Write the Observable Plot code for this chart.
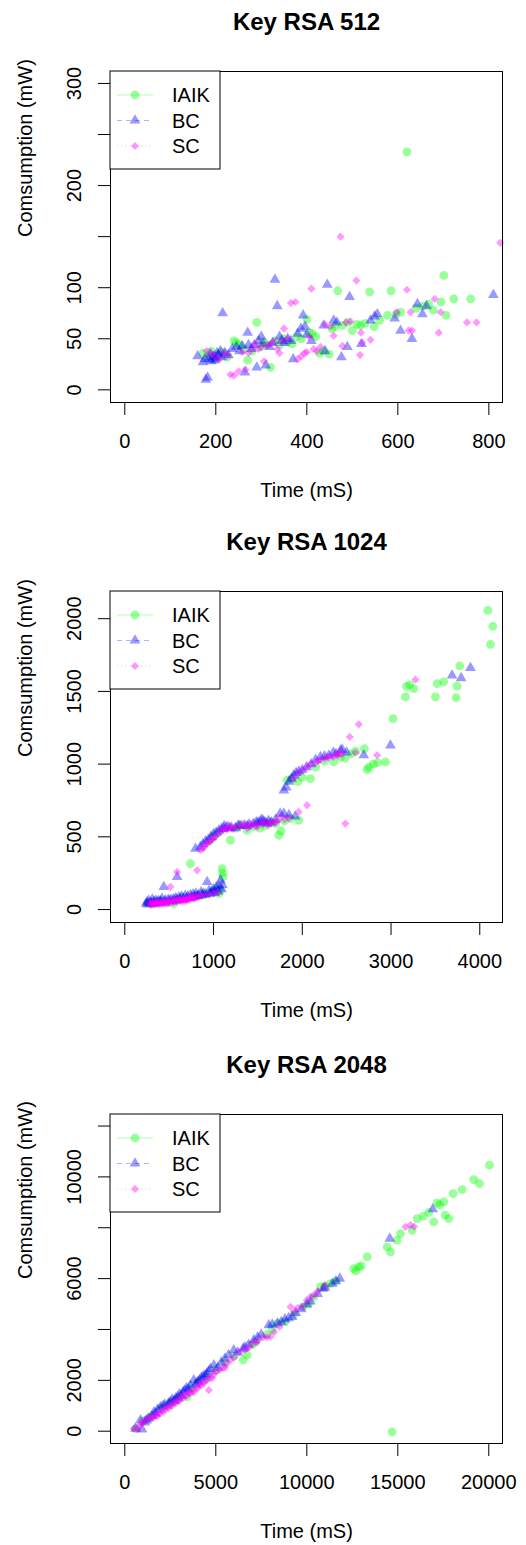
<!DOCTYPE html>
<html><head><meta charset="utf-8">
<script src="https://cdn.jsdelivr.net/npm/d3@7"></script>
<script src="https://cdn.jsdelivr.net/npm/@observablehq/plot@0.6"></script>
<style>body{margin:0;background:#fff} svg{display:block}</style>
</head><body><div id="c"></div>
<script>
// ---- series definitions ----
const seriesNames = ["IAIK", "BC", "SC"];
const seriesColors = ["#00ff00", "#0000ff", "#ff00ff"];
const seriesDash = [null, "5,4", "1,3"];

// ---- Key RSA 512: [time mS, consumption mW] ----
const rsa512IAIK = [[172,36],[182,33],[190,38],[198,30],[205,34],[215,37],[225,32],[240,48],[245,46],[252,44],[262,40],[270,29],[280,38],[290,66],[298,42],[305,47],[312,44],[320,22],[330,48],[340,44],[348,50],[358,47],[368,45],[378,52],[388,50],[400,69],[405,56],[412,55],[420,52],[428,36],[436,38],[449,35],[455,60],[462,62],[468,97],[478,63],[490,66],[500,58],[510,64],[518,63],[528,65],[538,96],[548,62],[560,68],[577,73],[585,97],[596,74],[606,76],[620,233],[640,80],[655,82],[668,84],[678,78],[695,86],[701,112],[706,73],[723,89],[760,89]];
const rsa512BC = [[160,33],[172,27],[176,30],[178,10],[182,12],[185,30],[188,35],[190,28],[193,32],[196,33],[198,29],[200,31],[203,36],[206,34],[210,38],[213,32],[215,75],[220,36],[228,34],[236,40],[245,42],[252,38],[258,43],[264,17],[270,56],[272,44],[278,40],[285,44],[290,22],[294,48],[300,52],[304,45],[310,24],[318,42],[325,46],[330,108],[335,82],[340,52],[345,48],[350,46],[358,50],[365,48],[370,30],[380,55],[387,60],[392,73],[396,62],[400,54],[410,48],[437,63],[440,38],[445,103],[459,68],[466,66],[476,32],[489,42],[494,91],[520,45],[540,68],[549,72],[555,74],[593,70],[606,58],[631,50],[643,84],[654,74],[663,82],[810,93]];
const rsa512SC = [[180,38],[190,35],[198,33],[208,30],[218,36],[226,34],[232,15],[240,14],[250,18],[258,37],[265,20],[272,36],[280,40],[286,45],[294,40],[300,42],[306,28],[313,44],[320,45],[328,47],[335,40],[340,36],[346,48],[350,60],[358,50],[365,85],[375,86],[380,30],[388,33],[395,36],[400,37],[405,52],[410,99],[415,40],[422,38],[430,42],[440,64],[452,62],[459,53],[474,150],[478,43],[486,66],[496,67],[509,107],[517,34],[519,56],[522,46],[540,49],[598,76],[620,98],[624,58],[628,76],[631,58],[681,89],[690,56],[694,76],[752,66],[773,66],[825,144]];

// ---- Key RSA 1024 ----
const rsa1024IAIK = [[260,45],[300,50],[327,41],[360,55],[420,60],[480,48],[552,41],[600,70],[650,85],[740,316],[800,95],[850,110],[900,100],[960,115],[1003,121],[1040,150],[1060,110],[1078,133],[1097,282],[1100,250],[1108,225],[950,470],[1000,500],[1060,530],[1190,477],[1250,560],[1300,580],[1378,545],[1450,570],[1520,560],[1580,575],[1650,600],[1700,590],[1735,511],[1760,540],[1800,610],[1867,625],[1960,614],[1829,889],[1880,900],[1950,880],[2000,910],[2092,900],[2150,980],[2250,1020],[2355,1015],[2430,1049],[2480,1040],[2550,1070],[2600,1090],[2700,1106],[2731,962],[2750,980],[2800,1000],[2850,1010],[2937,1015],[3023,1313],[3163,1462],[3174,1535],[3210,1545],[3256,1519],[3500,1462],[3520,1553],[3594,1565],[3733,1457],[3745,1537],[3775,1675],[4090,2057],[4120,1824],[4146,1947]];
const rsa1024BC = [[240,40],[252,53],[260,35],[270,60],[290,45],[300,45],[310,70],[330,55],[340,40],[350,62],[370,50],[380,60],[400,58],[410,48],[420,75],[439,156],[450,55],[460,65],[490,68],[500,60],[520,70],[540,58],[550,72],[575,80],[580,65],[590,225],[610,85],[620,70],[640,90],[660,72],[680,95],[700,78],[710,90],[740,100],[750,80],[770,105],[790,88],[800,110],[820,92],[830,95],[860,120],[870,100],[890,110],[910,105],[928,190],[950,130],[960,110],[980,125],[1000,140],[1010,115],[1030,150],[1050,125],[1060,160],[1078,201],[1090,140],[1100,170],[796,419],[850,430],[880,450],[910,470],[940,480],[970,500],[1000,520],[1030,530],[1060,545],[1090,555],[1115,557],[1120,575],[1150,570],[1180,560],[1200,565],[1250,560],[1280,580],[1300,575],[1350,580],[1380,575],[1400,585],[1450,590],[1480,600],[1500,600],[1529,602],[1540,620],[1560,610],[1580,600],[1600,590],[1620,610],[1650,600],[1700,620],[1750,660],[1792,660],[1850,650],[1920,640],[1792,820],[1820,840],[1850,880],[1880,900],[1904,923],[1930,940],[1960,950],[2000,960],[2050,980],[2100,1000],[2150,1030],[2205,1049],[2250,1055],[2300,1060],[2350,1080],[2380,1070],[2430,1095],[2450,1100],[2500,1080],[2693,1061],[2993,1129],[3688,1610],[3790,1592],[3895,1661]];
const rsa1024SC = [[280,45],[290,30],[300,40],[310,55],[320,40],[330,35],[340,50],[350,45],[360,38],[370,48],[380,55],[390,35],[400,45],[410,52],[420,40],[430,45],[440,50],[450,40],[460,60],[470,55],[480,42],[490,50],[500,55],[510,45],[514,156],[530,65],[540,55],[550,50],[560,65],[570,60],[590,259],[590,55],[600,70],[610,68],[620,60],[630,62],[640,75],[650,58],[660,70],[670,75],[680,60],[690,70],[700,65],[710,72],[720,85],[730,68],[740,80],[750,85],[760,90],[770,78],[780,75],[800,90],[815,270],[820,85],[840,100],[852,408],[860,95],[880,420],[900,440],[900,100],[920,450],[940,465],[950,105],[960,470],[980,485],[1000,490],[1000,110],[1020,500],[1050,520],[1050,120],[1080,540],[1110,550],[1120,560],[1150,550],[1170,580],[1200,560],[1220,555],[1250,575],[1300,570],[1320,590],[1350,580],[1380,560],[1400,570],[1420,590],[1450,585],[1480,570],[1500,575],[1540,600],[1566,591],[1600,605],[1620,580],[1650,595],[1680,600],[1700,600],[1720,610],[1760,640],[1800,620],[1850,630],[1960,671],[2054,717],[1900,900],[1950,930],[2000,960],[2050,980],[2100,1000],[2150,1010],[2180,1020],[2200,1030],[2250,1040],[2280,1050],[2300,1045],[2350,1050],[2380,1065],[2400,1060],[2420,1080],[2450,1070],[2486,591],[2535,1187],[2637,1274],[2600,1080],[2843,1061],[3275,1581]];

// ---- Key RSA 2048 ----
const rsa2048IAIK = [[600,100],[1000,400],[1300,500],[1500,600],[2000,900],[2300,1000],[2500,1100],[2800,1200],[3000,1300],[3425,1350],[3700,1700],[4000,1900],[4500,2100],[5000,2400],[5500,2700],[6000,2950],[6500,2800],[6722,2988],[7000,3400],[7200,3500],[7800,3800],[8100,4000],[8370,4233],[8800,4300],[9300,4600],[9800,4900],[10100,5000],[10385,5282],[10751,5675],[11000,5700],[11300,5806],[11600,5900],[12582,6396],[12700,6300],[12857,6461],[13000,6500],[13315,6855],[14414,7248],[14597,7051],[14689,-26],[14963,7510],[15147,7772],[15788,7903],[16062,8362],[16400,8450],[16700,8600],[16978,8231],[17161,8978],[17300,8900],[17527,9017],[17600,8500],[17802,8362],[18040,9345],[18535,9502],[19176,9895],[19487,9738],[20037,10459]];
const rsa2048BC = [[586,105],[861,432],[952,66],[1100,350],[1200,420],[1300,500],[1500,600],[1600,750],[1700,700],[1800,850],[1960,957],[2100,1000],[2200,1050],[2400,1100],[2500,1150],[2600,1250],[2700,1200],[2800,1300],[2900,1350],[3000,1450],[3100,1400],[3200,1550],[3300,1600],[3400,1700],[3500,1650],[3600,1800],[3791,2005],[3900,1850],[4000,1950],[4100,2000],[4200,2100],[4300,2150],[4400,2200],[4500,2250],[4600,2350],[4700,2450],[4890,2595],[5100,2500],[5300,2700],[5500,2850],[5700,3000],[5989,3185],[6200,3100],[6500,3250],[6600,3300],[6800,3400],[7088,3578],[7300,3700],[7500,3800],[7912,4168],[8100,4200],[8400,4250],[8600,4300],[8800,4400],[9000,4450],[9194,4495],[9400,4650],[9700,4800],[10000,5000],[10200,5100],[10600,5400],[10897,5609],[11000,5650],[11400,5800],[11600,5900],[11813,6003],[14560,7575],[16923,8729]];
const rsa2048SC = [[495,105],[700,80],[800,200],[900,300],[1000,350],[1100,450],[1250,500],[1400,500],[1500,550],[1600,550],[1700,650],[1800,600],[1900,700],[2000,800],[2100,750],[2200,850],[2300,950],[2400,900],[2500,1000],[2600,1000],[2700,1150],[2800,1100],[2900,1200],[3000,1200],[3100,1350],[3200,1300],[3300,1400],[3400,1400],[3500,1500],[3600,1500],[3700,1550],[3800,1550],[3900,1700],[4000,1700],[4100,1850],[4200,1800],[4300,1900],[4400,1950],[4500,2000],[4615,1612],[4700,2100],[4800,2100],[4900,2250],[5000,2350],[5200,2400],[5400,2500],[5500,2500],[5600,2650],[5806,2792],[6000,2900],[6300,3100],[6600,3200],[6800,3300],[7000,3450],[7200,3500],[7300,3550],[7600,3700],[7800,3700],[8004,3709],[8200,3900],[8500,4100],[9103,4889],[9300,4700],[9500,4850],[9800,4900],[10000,5150],[10201,5282],[10400,5350],[10600,5500],[11000,5700],[15421,8034],[15700,8100],[15900,8050]];

// ---- axes: ticks and labels ----
const x512Ticks = [0, 200, 400, 600, 800];
const y512Ticks = [0, 50, 100, 150, 200, 250, 300];
const y512Labels = [0, 50, 100, 200, 300];
const x1024Ticks = [0, 1000, 2000, 3000, 4000];
const y1024Ticks = [0, 500, 1000, 1500, 2000];
const y1024Labels = [0, 500, 1000, 1500, 2000];
const x2048Ticks = [0, 5000, 10000, 15000, 20000];
const y2048Ticks = [0, 2000, 4000, 6000, 8000, 10000, 12000];
const y2048Labels = [0, 2000, 6000, 10000];

const FONT = "'Liberation Sans', Arial, Helvetica, sans-serif";
const ALPHA = 0.4;
const symbols = [d3.symbolCircle, d3.symbolTriangle, d3.symbolDiamond2];
const radii = [4.4, 4.0, 3.7];

function legend(mL, mT) {
  return function () {
    const g = d3.create("svg:g");
    g.append("rect").attr("x", mL).attr("y", mT).attr("width", 110).attr("height", 98)
      .attr("fill", "white").attr("stroke", "black");
    seriesNames.forEach((name, i) => {
      const cy = mT + 24 + i * 25.5;
      g.append("line").attr("x1", mL + 7).attr("x2", mL + 43).attr("y1", cy).attr("y2", cy)
        .attr("stroke", seriesColors[i]).attr("stroke-opacity", 0.3).attr("stroke-width", 1)
        .attr("stroke-dasharray", seriesDash[i]);
      g.append("path").attr("transform", `translate(${mL + 25},${cy})`)
        .attr("d", d3.symbol(symbols[i], Math.PI * radii[i] * radii[i])())
        .attr("fill", seriesColors[i]).attr("fill-opacity", ALPHA);
      g.append("text").attr("x", mL + 62).attr("y", cy).attr("dy", "0.36em")
        .attr("text-anchor", "start")
        .attr("font-size", 20).attr("font-family", FONT).attr("fill", "black").text(name);
    });
    return g.node();
  };
}

function panel(cfg) {
  const mL = 110, mR = 24, mT = 71;
  const sets = [cfg.iaik, cfg.bc, cfg.sc];
  return Plot.plot({
    width: 526, height: cfg.height,
    marginLeft: mL, marginRight: mR, marginTop: mT, marginBottom: cfg.mB,
    style: {fontFamily: FONT, fontSize: "20px", background: "white", color: "black"},
    x: {domain: cfg.xDomain},
    y: {domain: cfg.yDomain},
    marks: [
      ...sets.map((d, i) => Plot.dot(d, {
        x: v => v[0], y: v => v[1], r: radii[i], symbol: symbols[i],
        fill: seriesColors[i], fillOpacity: ALPHA, stroke: "none"
      })),
      Plot.frame({stroke: "black", strokeWidth: 1}),
      Plot.axisX({ticks: cfg.xTicks, tickSize: 13, tickFormat: () => "", label: null, stroke: "black"}),
      Plot.axisY({ticks: cfg.yTicks, tickSize: 12, tickFormat: () => "", label: null, stroke: "black"}),
      Plot.text(cfg.xTicks, {x: d => d, text: d => String(d), frameAnchor: "bottom", dy: 38.7, lineAnchor: "middle", fontSize: 20, fill: "black"}),
      Plot.text(cfg.yLabels, {y: d => d, text: d => String(d), frameAnchor: "left", dx: -36, rotate: -90, lineAnchor: "middle", textAnchor: "middle", fontSize: 20, fill: "black"}),
      Plot.text([cfg.title], {text: d => d, frameAnchor: "top", dy: -49, lineAnchor: "middle", fontSize: 24, fontWeight: "bold", fill: "black"}),
      Plot.text(["Time (mS)"], {text: d => d, frameAnchor: "bottom", dy: 88, lineAnchor: "middle", fontSize: 20, fill: "black"}),
      Plot.text(["Comsumption (mW)"], {text: d => d, frameAnchor: "left", dx: -85, rotate: -90, lineAnchor: "middle", fontSize: 20, fill: "black"}),
      legend(mL, mT)
    ]
  });
}

const root = document.getElementById("c");
root.appendChild(panel({title: "Key RSA 512", height: 520, mB: 118,
  xDomain: [-31.4, 830], yDomain: [-12.4, 311.7],
  xTicks: x512Ticks, yTicks: y512Ticks, yLabels: y512Labels,
  iaik: rsa512IAIK, bc: rsa512BC, sc: rsa512SC}));
root.appendChild(panel({title: "Key RSA 1024", height: 523, mB: 121,
  xDomain: [-161, 4256], yDomain: [-89, 2187],
  xTicks: x1024Ticks, yTicks: y1024Ticks, yLabels: y1024Labels,
  iaik: rsa1024IAIK, bc: rsa1024BC, sc: rsa1024SC}));
root.appendChild(panel({title: "Key RSA 2048", height: 502, mB: 102,
  xDomain: [-786, 20753], yDomain: [-484, 12454],
  xTicks: x2048Ticks, yTicks: y2048Ticks, yLabels: y2048Labels,
  iaik: rsa2048IAIK, bc: rsa2048BC, sc: rsa2048SC}));
</script>
</body></html>
